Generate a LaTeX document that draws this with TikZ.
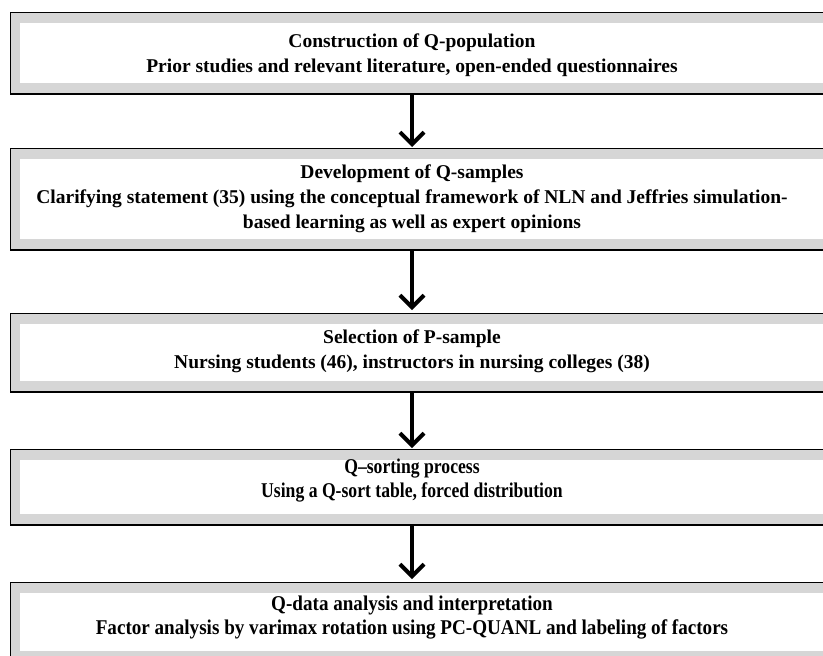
\documentclass[tikz,border=0pt]{standalone}
\usepackage{fontspec}
\usepackage{graphicx}
\setmainfont{Liberation Serif}
\usetikzlibrary{arrows.meta,calc}
\definecolor{band}{RGB}{214,214,214}
\newcommand{\narrow}[2]{\scalebox{#1}[1]{#2}}
\tikzset{
  frame/.style={fill=band, draw=none, inner sep=0pt, minimum width=830pt, anchor=north west,
    path picture={
      \fill[white] ([shift={(10pt,-11pt)}]path picture bounding box.north west) rectangle ([shift={(0pt,11pt)}]path picture bounding box.south east);
      \draw[line width=2.4pt] (path picture bounding box.north east) -- (path picture bounding box.north west) -- (path picture bounding box.south west) -- (path picture bounding box.south east);
    }},
  steptext/.style={align=center, inner sep=0pt, font=\fontsize{19.5}{25}\selectfont\bfseries},
  tighttext/.style={align=center, inner sep=0pt, font=\fontsize{21}{24}\selectfont\bfseries},
  flow/.style={line width=4pt, -{Straight Barb[length=12pt,width=24pt]}}
}
\begin{document}
\begin{tikzpicture}[x=1pt,y=-1pt]
\useasboundingbox (0,0) rectangle (823,656);
\node[frame, minimum height=82pt] (b1) at (10,12) {};
\node[frame, minimum height=102pt] (b2) at (10,148) {};
\node[frame, minimum height=79pt] (b3) at (10,313) {};
\node[frame, minimum height=76pt] (b4) at (10,449) {};
\node[frame, minimum height=80pt] (b5) at (10,582) {};
\node[steptext] (t1) at (412,55) {Construction of Q-population\\Prior studies and relevant literature, open-ended questionnaires};
\node[steptext] (t2) at (412,199) {Development of Q-samples\\Clarifying statement (35) using the conceptual framework of NLN and Jeffries simulation-\\based learning as well as expert opinions};
\node[steptext] (t3) at (412,351) {Selection of P-sample\\Nursing students (46), instructors in nursing colleges (38)};
\node[tighttext] (t4) at (412,481) {\narrow{0.84}{Q--sorting process}\\\narrow{0.84}{Using a Q-sort table, forced distribution}};
\node[tighttext] (t5) at (412,618) {\narrow{0.91}{Q-data analysis and interpretation}\\\narrow{0.91}{Factor analysis by varimax rotation using PC-QUANL and labeling of factors}};
\draw[flow] (b1.south -| t1) -- ($(b2.north -| t1)+(0,-1)$);
\draw[flow] (b2.south -| t1) -- ($(b3.north -| t1)+(0,-3)$);
\draw[flow] (b3.south -| t1) -- ($(b4.north -| t1)+(0,-1)$);
\draw[flow] (b4.south -| t1) -- ($(b5.north -| t1)+(0,-3)$);
\end{tikzpicture}
\end{document}
